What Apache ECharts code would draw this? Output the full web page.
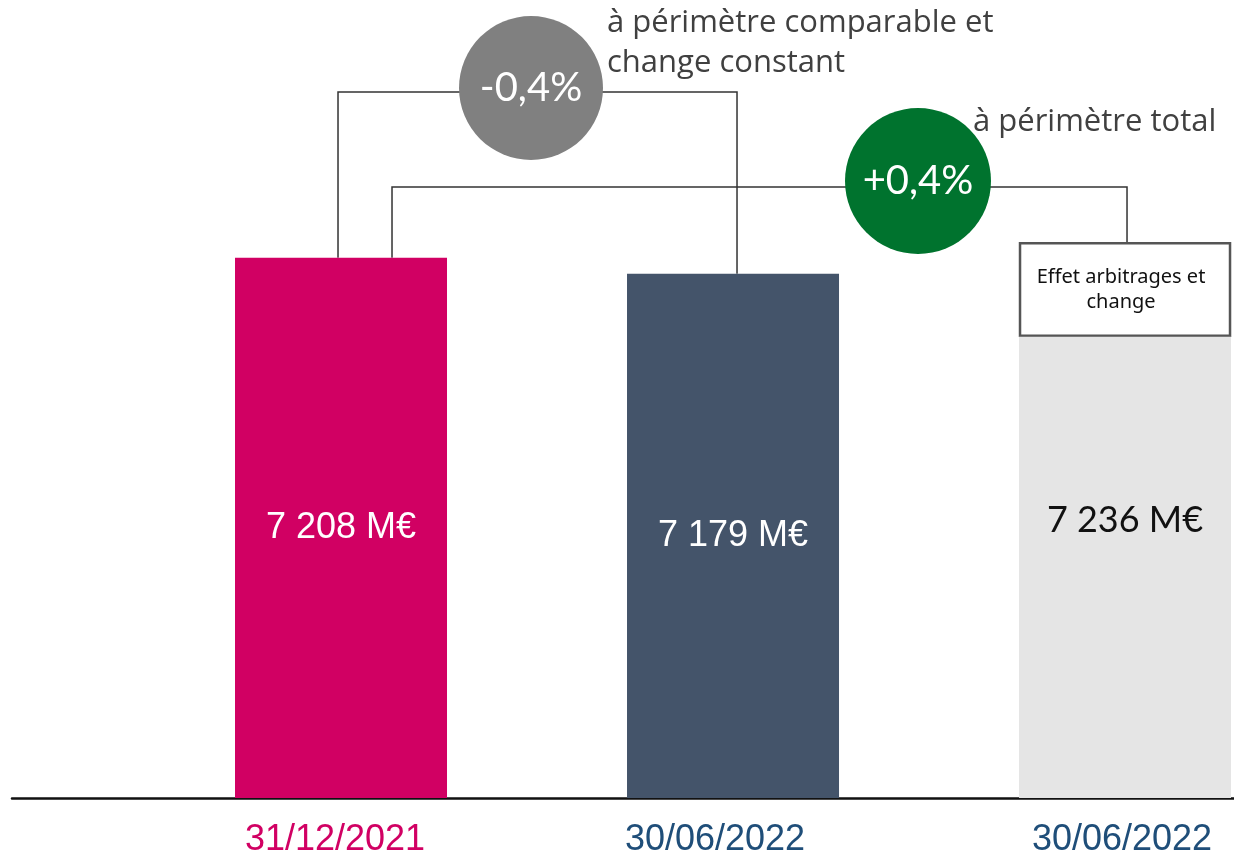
<!DOCTYPE html>
<html>
<head>
<meta charset="utf-8">
<script src="https://cdn.jsdelivr.net/npm/echarts@6/dist/echarts.min.js"></script>
<style>
  html, body { margin: 0; padding: 0; background: #fff; }
  #chart { width: 1234px; height: 858px; }
</style>
</head>
<body>
<div id="chart"></div>
<script>
// données
const categories = ['31/12/2021', '30/06/2022', '30/06/2022'];
const totals = [7208, 7179, 7236];
const baseValues = [7208, 7179, 7065];      // partie pleine des barres
const effetValues = [null, null, 171];      // encadré "Effet arbitrages et change"
const barColors = ['#D10063', '#44546A', '#E5E5E5'];
const labelColors = ['#D10063', '#1F4E79', '#1F4E79'];
const valueLabels = ['7 208 M€', '7 179 M€', '7 236 M€'];
const variations = ['-0,4%', '+0,4%'];
const variationTexts = ['à périmètre comparable et\nchange constant', 'à périmètre total'];

const BAR_W = 212;
const chart = echarts.init(document.getElementById('chart'));

// encadré : de la fin de la barre grise jusqu'au total
const effetData = effetValues
  .map((v, i) => (v == null ? null : [i, baseValues[i], baseValues[i] + v]))
  .filter(d => d);

// petit décalage des dates vers la gauche comme sur l'original
const dateShift = [12, 36, 6];
const dateRich = {};
categories.forEach((c, i) => {
  dateRich['d' + i] = {
    color: labelColors[i],
    fontFamily: 'Liberation Sans Narrow, Liberation Sans, Arial',
    fontSize: 36,
    padding: [0, dateShift[i], 0, 0]
  };
});

const option = {
  animation: false,
  grid: { left: 12, right: 0, top: 0, bottom: 60 },
  // axe x en valeurs (0, 1, 2) pour placer les barres à 341 / 733 / 1125 px
  xAxis: {
    type: 'value',
    min: -0.8393,
    max: 2.278,
    splitLine: { show: false },
    axisLine: { show: true, onZero: false, lineStyle: { color: '#111', width: 2.5 } },
    axisTick: { show: false },
    axisLabel: {
      customValues: [0, 1, 2],
      margin: 24,
      formatter: v => '{d' + Math.round(v) + '|' + categories[Math.round(v)] + '}',
      rich: dateRich
    }
  },
  yAxis: {
    type: 'value',
    min: 6229,
    max: 7675,
    show: false
  },
  series: [
    {
      type: 'bar',
      barWidth: BAR_W,
      data: baseValues.map((v, i) => ({ value: [i, v], itemStyle: { color: barColors[i] } })),
      label: {
        show: true,
        position: 'inside',
        formatter: p => (p.dataIndex < 2 ? '{w|' : '{k|') + valueLabels[p.dataIndex] + '}',
        rich: {
          w: { color: '#fff', fontFamily: 'Liberation Sans, Arial', fontSize: 36 },
          k: { color: '#111', fontFamily: 'Lato, Open Sans', fontSize: 36, padding: [0, 0, 94, 0] }
        }
      }
    },
    {
      type: 'custom',
      data: effetData,
      encode: { x: 0, y: [1, 2] },
      renderItem: (params, api) => {
        const bottom = api.coord([api.value(0), api.value(1)]);
        const topPt = api.coord([api.value(0), api.value(2)]);
        return {
          type: 'group',
          children: [
            {
              type: 'rect',
              shape: { x: bottom[0] - BAR_W / 2 + 1, y: topPt[1] + 1, width: BAR_W - 2, height: bottom[1] - topPt[1] - 2 },
              style: { fill: '#fff', stroke: '#555', lineWidth: 2.5 }
            },
            {
              type: 'text',
              x: bottom[0] - 4, y: (bottom[1] + topPt[1]) / 2,
              style: {
                text: 'Effet arbitrages et\nchange',
                fill: '#111', fontFamily: 'Noto Sans, Open Sans', fontSize: 20, lineHeight: 25,
                align: 'center', verticalAlign: 'middle'
              }
            }
          ]
        };
      }
    }
  ]
};

chart.setOption(option);

// accolades / variations
const barTop = i => chart.convertToPixel({ seriesIndex: 0 }, [i, totals[i]]);
const p0 = barTop(0), p1 = barTop(1), p2 = barTop(2);
const lineStyle = { stroke: '#333', lineWidth: 1.5, fill: null };
const yA = 92, yB = 187;
const txtFont = 'Open Sans, Lato';

chart.setOption({
  graphic: [
    { type: 'polyline', shape: { points: [[p0[0] - 3, p0[1]], [p0[0] - 3, yA], [p1[0] + 4, yA], [p1[0] + 4, p1[1]]] }, style: lineStyle },
    { type: 'polyline', shape: { points: [[p0[0] + 51, p0[1]], [p0[0] + 51, yB], [p2[0] + 2, yB], [p2[0] + 2, p2[1]]] }, style: lineStyle },
    { type: 'circle', shape: { cx: 531, cy: 88, r: 72 }, style: { fill: '#808080' }, z: 10 },
    { type: 'text', x: 531, y: 88, z: 11, style: { text: variations[0], fill: '#fff', fontSize: 40, fontFamily: 'Lato, Open Sans', align: 'center', verticalAlign: 'middle' } },
    { type: 'circle', shape: { cx: 918, cy: 181, r: 73 }, style: { fill: '#00732E' }, z: 10 },
    { type: 'text', x: 918, y: 181, z: 11, style: { text: variations[1], fill: '#fff', fontSize: 40, fontFamily: 'Lato, Open Sans', align: 'center', verticalAlign: 'middle' } },
    { type: 'text', x: 607, y: 3, z: 11, style: { text: variationTexts[0], fill: '#404040', fontSize: 31, lineHeight: 40, fontFamily: txtFont } },
    { type: 'text', x: 973, y: 102, z: 11, style: { text: variationTexts[1], fill: '#404040', fontSize: 31, lineHeight: 40, fontFamily: txtFont } }
  ]
});
</script>
</body>
</html>
